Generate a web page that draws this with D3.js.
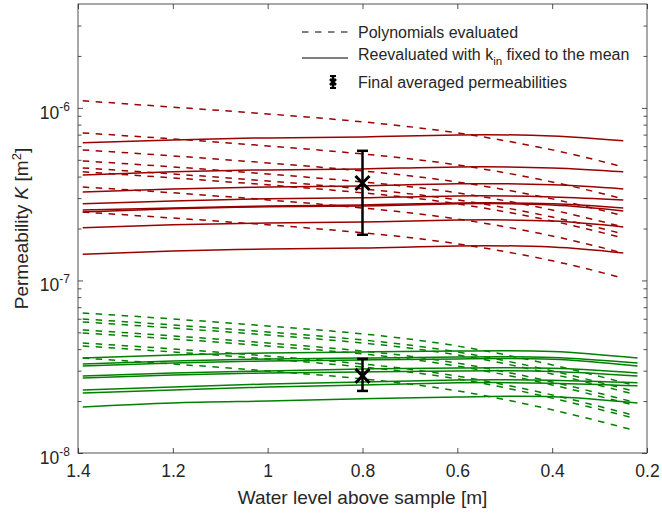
<!DOCTYPE html>
<html>
<head>
<meta charset="utf-8">
<script src="https://cdn.jsdelivr.net/npm/d3@7/dist/d3.min.js"></script>
<style>
  body { margin: 0; background: #fff; }
  text { font-family: Arial, "Liberation Sans", Helvetica, sans-serif; fill: #262626; }
</style>
</head>
<body>
<div id="chart"></div>
<script>
// water level positions where curves were read (m)
const redX = [1.39, 1.2, 1.0, 0.8, 0.6, 0.4, 0.25];
const greenX = [1.39, 1.2, 1.0, 0.8, 0.6, 0.4, 0.22];
const greenPolyX = [1.39, 1.2, 1.0, 0.8, 0.6, 0.4, 0.23];

// red sample, K in 1e-7 m2
const redPoly = [
  [11.0, 10.1, 9.23, 8.30, 7.16, 5.71, 4.55],
  [7.16, 6.61, 6.02, 5.41, 4.67, 3.72, 2.97],
  [5.71, 5.27, 4.80, 4.31, 3.72, 2.97, 2.37],
  [4.93, 4.55, 4.14, 3.72, 3.22, 2.56, 2.04],
  [4.49, 4.14, 3.77, 3.39, 2.93, 2.33, 1.86],
  [4.26, 3.93, 3.58, 3.22, 2.78, 2.21, 1.76],
  [3.48, 3.22, 2.93, 2.63, 2.27, 1.81, 1.44],
  [2.49, 2.30, 2.10, 1.89, 1.63, 1.30, 1.03]
];
const redFixed = [
  [6.27, 6.52, 6.70, 6.79, 6.97, 6.88, 6.44],
  [4.09, 4.26, 4.37, 4.43, 4.55, 4.49, 4.26],
  [3.26, 3.39, 3.48, 3.53, 3.63, 3.58, 3.39],
  [2.78, 2.89, 2.97, 3.01, 3.09, 3.05, 2.93],
  [2.56, 2.63, 2.70, 2.74, 2.81, 2.78, 2.63],
  [2.49, 2.60, 2.67, 2.70, 2.78, 2.74, 2.53],
  [2.02, 2.10, 2.15, 2.18, 2.24, 2.21, 2.04],
  [1.42, 1.48, 1.52, 1.54, 1.585, 1.56, 1.44]
];

// green sample, K in 1e-8 m2
const greenPoly = [
  [6.48, 5.98, 5.45, 4.90, 4.17, 3.24, 2.48],
  [5.98, 5.52, 5.03, 4.52, 3.85, 2.99, 2.29],
  [5.75, 5.30, 4.83, 4.34, 3.70, 2.87, 2.20],
  [5.17, 4.77, 4.34, 3.90, 3.32, 2.58, 1.98],
  [4.96, 4.58, 4.17, 3.75, 3.19, 2.48, 1.90],
  [4.34, 4.01, 3.65, 3.28, 2.79, 2.17, 1.66],
  [4.17, 3.85, 3.51, 3.15, 2.69, 2.08, 1.60],
  [3.55, 3.28, 2.99, 2.69, 2.29, 1.78, 1.36]
];
const greenFixed = [
  [3.55, 3.70, 3.80, 3.85, 3.90, 3.88, 3.55],
  [3.28, 3.41, 3.51, 3.55, 3.60, 3.58, 3.32],
  [3.19, 3.32, 3.41, 3.46, 3.51, 3.49, 3.19],
  [2.79, 2.91, 2.99, 3.07, 3.11, 3.10, 2.91],
  [2.72, 2.83, 2.91, 2.95, 2.99, 2.97, 2.79],
  [2.32, 2.41, 2.51, 2.58, 2.65, 2.64, 2.55],
  [2.23, 2.32, 2.41, 2.48, 2.55, 2.54, 2.45],
  [1.85, 1.95, 2.00, 2.06, 2.11, 2.12, 1.95]
];

// final averaged permeabilities (m2)
const avgX = [0.8, 0.8];
const avgMean = [3.67e-7, 2.80e-8];
const avgLow = [1.84e-7, 2.29e-8];
const avgHigh = [5.64e-7, 3.51e-8];

const xTicks = [1.4, 1.2, 1, 0.8, 0.6, 0.4, 0.2];
const yDecades = [1e-8, 1e-7, 1e-6];
const yExponents = ["-8", "-7", "-6"];

const legendLabels = ["Polynomials evaluated", "Reevaluated with k", "Final averaged permeabilities"];

const red = "#990000", green = "#008000", axisColor = "#262626";

const W = 662, H = 513;
const margin = {top: 4, right: 15, bottom: 60, left: 78};
const width = W - margin.left - margin.right;
const height = H - margin.top - margin.bottom;

const x = d3.scaleLinear().domain([1.4, 0.2]).range([0, width]);
const y = d3.scaleLog().domain([1e-8, 4e-6]).range([height, 0]);

const svg = d3.select("#chart").append("svg")
    .attr("width", W)
    .attr("height", H)
  .append("g")
    .attr("transform", "translate(" + margin.left + "," + margin.top + ")");

// minor ticks for the log axis
const yMinor = [];
[1e-8, 1e-7, 1e-6].forEach(function(dec) {
  for (let k = 2; k <= 9; k++) {
    if (k * dec < 4e-6) yMinor.push(k * dec);
  }
});

function tickAxis(gen, vals, size) {
  return function(g) {
    g.call(gen.tickValues(vals).tickSize(-size).tickFormat(""));
    g.select(".domain").remove();
    g.selectAll("line").attr("stroke", axisColor).attr("stroke-width", 0.8);
  };
}

svg.append("g").call(tickAxis(d3.axisLeft(y), yDecades, 5));
svg.append("g").call(tickAxis(d3.axisLeft(y), yMinor, 3.5));
svg.append("g").attr("transform", "translate(" + width + ",0)").call(tickAxis(d3.axisRight(y), yDecades, 5));
svg.append("g").attr("transform", "translate(" + width + ",0)").call(tickAxis(d3.axisRight(y), yMinor, 3.5));
svg.append("g").call(tickAxis(d3.axisTop(x), xTicks, 5));

const xAxis = svg.append("g")
    .attr("transform", "translate(0," + height + ")")
    .call(d3.axisBottom(x).tickValues(xTicks).tickSize(-5).tickPadding(12).tickFormat(function(d) { return String(d); }));
xAxis.select(".domain").remove();
xAxis.selectAll("line").attr("stroke", axisColor).attr("stroke-width", 0.8);
xAxis.selectAll("text")
    .style("font-family", "Arial, 'Liberation Sans', sans-serif")
    .style("font-size", "17.5px")
    .style("fill", axisColor);

// y tick labels 10^n
const yLab = svg.append("g").selectAll("text")
    .data(yDecades)
    .enter().append("text")
    .attr("x", -8)
    .attr("y", function(d) { return y(d) + 11; })
    .attr("text-anchor", "end")
    .style("font-size", "17.5px");
yLab.append("tspan").text("10");
yLab.append("tspan")
    .attr("dy", -8)
    .style("font-size", "12px")
    .text(function(d, i) { return yExponents[i]; });

// curves
const line = function(xs, scale) {
  return d3.line()
    .x(function(d, i) { return x(xs[i]); })
    .y(function(d) { return y(d * scale); })
    .curve(d3.curveNatural);
};

const curves = svg.append("g");
function drawSet(data, xs, scale, color, dashed) {
  curves.selectAll(null)
    .data(data)
    .enter().append("path")
    .attr("d", line(xs, scale))
    .style("fill", "none")
    .style("stroke", color)
    .style("stroke-width", 1.5)
    .style("stroke-dasharray", dashed ? "6.5,6.5" : null);
}
drawSet(redPoly, redX, 1e-7, red, true);
drawSet(redFixed, redX, 1e-7, red, false);
drawSet(greenPoly, greenPolyX, 1e-8, green, true);
drawSet(greenFixed, greenX, 1e-8, green, false);

// error bars
const eb = svg.append("g").selectAll("g")
    .data(avgMean)
    .enter().append("g");
eb.append("line")
    .attr("x1", function(d, i) { return x(avgX[i]); })
    .attr("x2", function(d, i) { return x(avgX[i]); })
    .attr("y1", function(d, i) { return y(avgLow[i]); })
    .attr("y2", function(d, i) { return y(avgHigh[i]); })
    .style("stroke", "#000").style("stroke-width", 2.5);
[avgLow, avgHigh].forEach(function(arr) {
  eb.append("line")
    .attr("x1", function(d, i) { return x(avgX[i]) - 5.5; })
    .attr("x2", function(d, i) { return x(avgX[i]) + 5.5; })
    .attr("y1", function(d, i) { return y(arr[i]); })
    .attr("y2", function(d, i) { return y(arr[i]); })
    .style("stroke", "#000").style("stroke-width", 2.5);
});
eb.append("path")
    .attr("transform", function(d, i) { return "translate(" + x(avgX[i]) + "," + y(d) + ")"; })
    .attr("d", "M-7,-7L7,7M-7,7L7,-7")
    .style("stroke", "#000").style("stroke-width", 3)
    .style("fill", "none");

// box
svg.append("rect")
    .attr("width", width).attr("height", height)
    .style("fill", "none").style("stroke", axisColor).style("stroke-width", 0.8);

// legend
const leg = svg.append("g").attr("transform", "translate(" + (-margin.left) + "," + (-margin.top) + ")");
const rows = [32, 57, 82];
leg.append("line").attr("x1", 302).attr("x2", 348).attr("y1", rows[0]).attr("y2", rows[0])
    .style("stroke", "#000").style("stroke-width", 1).style("stroke-dasharray", "6.5,6.5");
leg.append("line").attr("x1", 302).attr("x2", 348).attr("y1", rows[1] + 1).attr("y2", rows[1] + 1)
    .style("stroke", "#000").style("stroke-width", 1.2);
leg.append("line").attr("x1", 333).attr("x2", 333).attr("y1", rows[2] - 6).attr("y2", rows[2] + 6)
    .style("stroke", "#000").style("stroke-width", 2.5);
[-6, 6].forEach(function(o) {
  leg.append("line").attr("x1", 330).attr("x2", 336).attr("y1", rows[2] + o).attr("y2", rows[2] + o)
    .style("stroke", "#000").style("stroke-width", 2);
});
leg.append("path").attr("transform", "translate(333," + rows[2] + ")")
    .attr("d", "M-3,-3L3,3M-3,3L3,-3").style("stroke", "#000").style("stroke-width", 2.5);

leg.append("text").attr("x", 358).attr("y", rows[0] + 5.5).style("font-size", "16px").text(legendLabels[0]);
const t2 = leg.append("text").attr("x", 358).attr("y", rows[1] + 3).style("font-size", "16px");
t2.append("tspan").text(legendLabels[1]);
t2.append("tspan").attr("dy", 5).style("font-size", "11.5px").text("in");
t2.append("tspan").attr("dy", -5).text(" fixed to the mean");
leg.append("text").attr("x", 358).attr("y", rows[2] + 5.5).style("font-size", "16px").text(legendLabels[2]);

// axis labels
svg.append("text")
    .attr("x", width / 2)
    .attr("y", height + 51)
    .attr("text-anchor", "middle")
    .style("font-size", "19px")
    .text("Water level above sample [m]");

const yl = svg.append("text")
    .attr("transform", "translate(" + (28 - margin.left) + "," + (height / 2) + ") rotate(-90)")
    .attr("text-anchor", "middle")
    .style("font-size", "19px");
yl.append("tspan").text("Permeability ");
yl.append("tspan").style("font-style", "italic").text("K");
yl.append("tspan").text(" [m");
yl.append("tspan").attr("dy", -7).style("font-size", "13px").text("2");
yl.append("tspan").attr("dy", 7).text("]");
</script>
</body>
</html>
